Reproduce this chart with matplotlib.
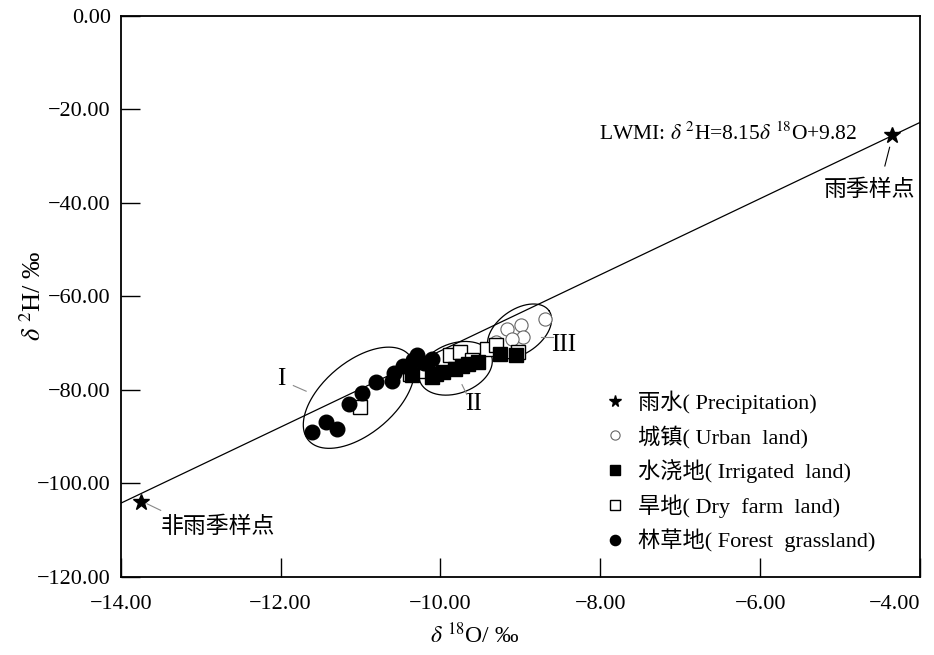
import numpy as np
import matplotlib
matplotlib.use("Agg")
import matplotlib.pyplot as plt
from matplotlib.ticker import FuncFormatter

plt.rcParams['font.family'] = ['Liberation Serif', 'Noto Sans CJK SC', 'DejaVu Sans']
plt.rcParams['mathtext.fontset'] = 'stix'
plt.rcParams['axes.unicode_minus'] = True

# Data
precip_x = [-4.35, -13.74]
precip_y = [-25.5, -104.1]

urban_x = [-9.17, -8.99, -8.69, -8.97, -9.11, -9.30]
urban_y = [-66.9, -66.2, -64.8, -68.7, -69.1, -69.8]

irrigated_x = [-10.36, -10.11, -9.97, -9.82, -9.73, -9.65, -9.53, -9.26, -9.05, -10.05]
irrigated_y = [-76.9, -77.3, -76.2, -75.5, -75.0, -74.4, -74.1, -72.3, -72.6, -76.6]

dry_x = [-11.01, -10.38, -10.19, -9.88, -9.76, -9.61, -9.42, -9.30, -9.03]
dry_y = [-83.7, -76.6, -75.9, -72.6, -71.9, -73.7, -71.2, -70.5, -71.9]

forest_x = [-11.61, -11.43, -11.30, -11.14, -10.98, -10.81, -10.61, -10.58,
            -10.47, -10.34, -10.29, -10.11, -10.20]
forest_y = [-89.1, -86.9, -88.4, -83.1, -80.7, -78.4, -78.2, -76.4,
            -74.8, -73.7, -72.6, -73.4, -74.3]

# local meteoric water line
lmwl_slope = 8.15
lmwl_intercept = 9.82

labels = ['雨水( Precipitation)', '城镇( Urban  land)', '水浇地( Irrigated  land)',
          '旱地( Dry  farm  land)', '林草地( Forest  grassland)']

xticks = [-14, -12, -10, -8, -6, -4]
yticks = [0, -20, -40, -60, -80, -100, -120]

# group ellipses: centre (data), semi axes (px), angle (deg)
groups = ['I', 'II', 'III']
ell_cx = [-11.02, -9.81, -9.01]
ell_cy = [-81.7, -75.4, -67.5]
ell_a = [66, 38, 36]
ell_b = [36, 25, 22]
ell_ang = [40, 20, 35]

W, H = 934, 655
fig = plt.figure(figsize=(W / 100, H / 100), dpi=100)
ax = fig.add_axes([120.7 / W, 1 - 576.7 / H, 799.3 / W, 560.7 / H])
ax.set_xlim(-14, -4)
ax.set_ylim(-120, 0)

# pixels per data unit, used to draw ellipses that look right on screen
sx = 799.3 / 10
sy = 560.7 / 120

xx = np.array([-14, -4])
ax.plot(xx, lmwl_slope * xx + lmwl_intercept, color='black', lw=0.9, zorder=1)

h_pre, = ax.plot(precip_x, precip_y, linestyle='none', marker='*', ms=12, color='black',
                 label=labels[0], zorder=4)
h_urb, = ax.plot(urban_x, urban_y, linestyle='none', marker='o', ms=9.5, mfc='white',
                 mec='#666666', mew=0.8, label=labels[1], zorder=2)
h_dry, = ax.plot(dry_x, dry_y, linestyle='none', marker='s', ms=10, mfc='white',
                 mec='black', mew=1.0, label=labels[3], zorder=2)
h_irr, = ax.plot(irrigated_x, irrigated_y, linestyle='none', marker='s', ms=10, color='black',
                 label=labels[2], zorder=3)
h_for, = ax.plot(forest_x, forest_y, linestyle='none', marker='o', ms=10.5, color='black',
                 label=labels[4], zorder=3)

t = np.linspace(0, 2 * np.pi, 200)
for cx, cy, a, b, ang in zip(ell_cx, ell_cy, ell_a, ell_b, ell_ang):
    th = np.radians(ang)
    ex = cx + (a * np.cos(t) * np.cos(th) - b * np.sin(t) * np.sin(th)) / sx
    ey = cy + (a * np.cos(t) * np.sin(th) + b * np.sin(t) * np.cos(th)) / sy
    ax.plot(ex, ey, color='black', lw=0.9, zorder=1)

# group labels with short leader lines
ax.text(-11.99, -77.6, 'I', fontsize=18, ha='center', va='center')
ax.plot([-11.84, -11.68], [-79.1, -80.3], color='#888888', lw=0.8)
ax.text(-9.59, -83.0, 'II', fontsize=18, ha='center', va='center')
ax.plot([-9.73, -9.67], [-78.9, -81.0], color='#888888', lw=0.8)
ax.text(-8.46, -70.5, 'III', fontsize=18, ha='center', va='center')
ax.plot([-8.74, -8.59], [-68.7, -68.7], color='#888888', lw=0.8)

# sample point notes
ax.plot([-4.38, -4.44], [-28.1, -32.1], color='black', lw=0.8)
ax.text(-4.63, -37.2, '雨季样点', fontsize=16.5, ha='center', va='center')
ax.plot([-13.67, -13.50], [-104.4, -105.8], color='#888888', lw=0.8)
ax.text(-13.50, -109.5, '非雨季样点', fontsize=16.5, ha='left', va='center')

ax.text(-4.78, -25.3, r'LWMI: $\delta$ $^{2}$H=8.15$\delta$ $^{18}$O+9.82',
        fontsize=15.5, ha='right', va='center')

fmt = FuncFormatter(lambda v, p: f'{v:.2f}'.replace('-', '\u2212'))
ax.set_xticks(xticks)
ax.set_yticks(yticks)
ax.xaxis.set_major_formatter(fmt)
ax.yaxis.set_major_formatter(fmt)
ax.tick_params(axis='both', direction='in', length=14, width=1)
ax.tick_params(axis='x', labelsize=16, pad=13)
ax.tick_params(axis='y', labelsize=16, pad=7)
for s in ax.spines.values():
    s.set_linewidth(1.3)
# keep the last x label inside the picture
ax.get_xticklabels()[-1].set_horizontalalignment('right')
ax.get_xticklabels()[-1].set_x(-4.0)

ax.set_xlabel(r'$\delta$ $^{18}$O/ ‰', fontsize=17)
ax.xaxis.set_label_coords(0.443, -0.082)
ax.set_ylabel(r'$\delta$ $^{2}$H/ ‰', fontsize=19)
ax.yaxis.set_label_coords(-0.094, 0.5)

ax.legend(handles=[h_pre, h_urb, h_irr, h_dry, h_for],
          loc='upper left', bbox_to_anchor=(0.605, 0.332), frameon=False,
          fontsize=16, handlelength=1.0, handletextpad=0.5, labelspacing=0.5,
          borderpad=0, borderaxespad=0, markerscale=0.7)

fig.savefig('out.png', dpi=100)
